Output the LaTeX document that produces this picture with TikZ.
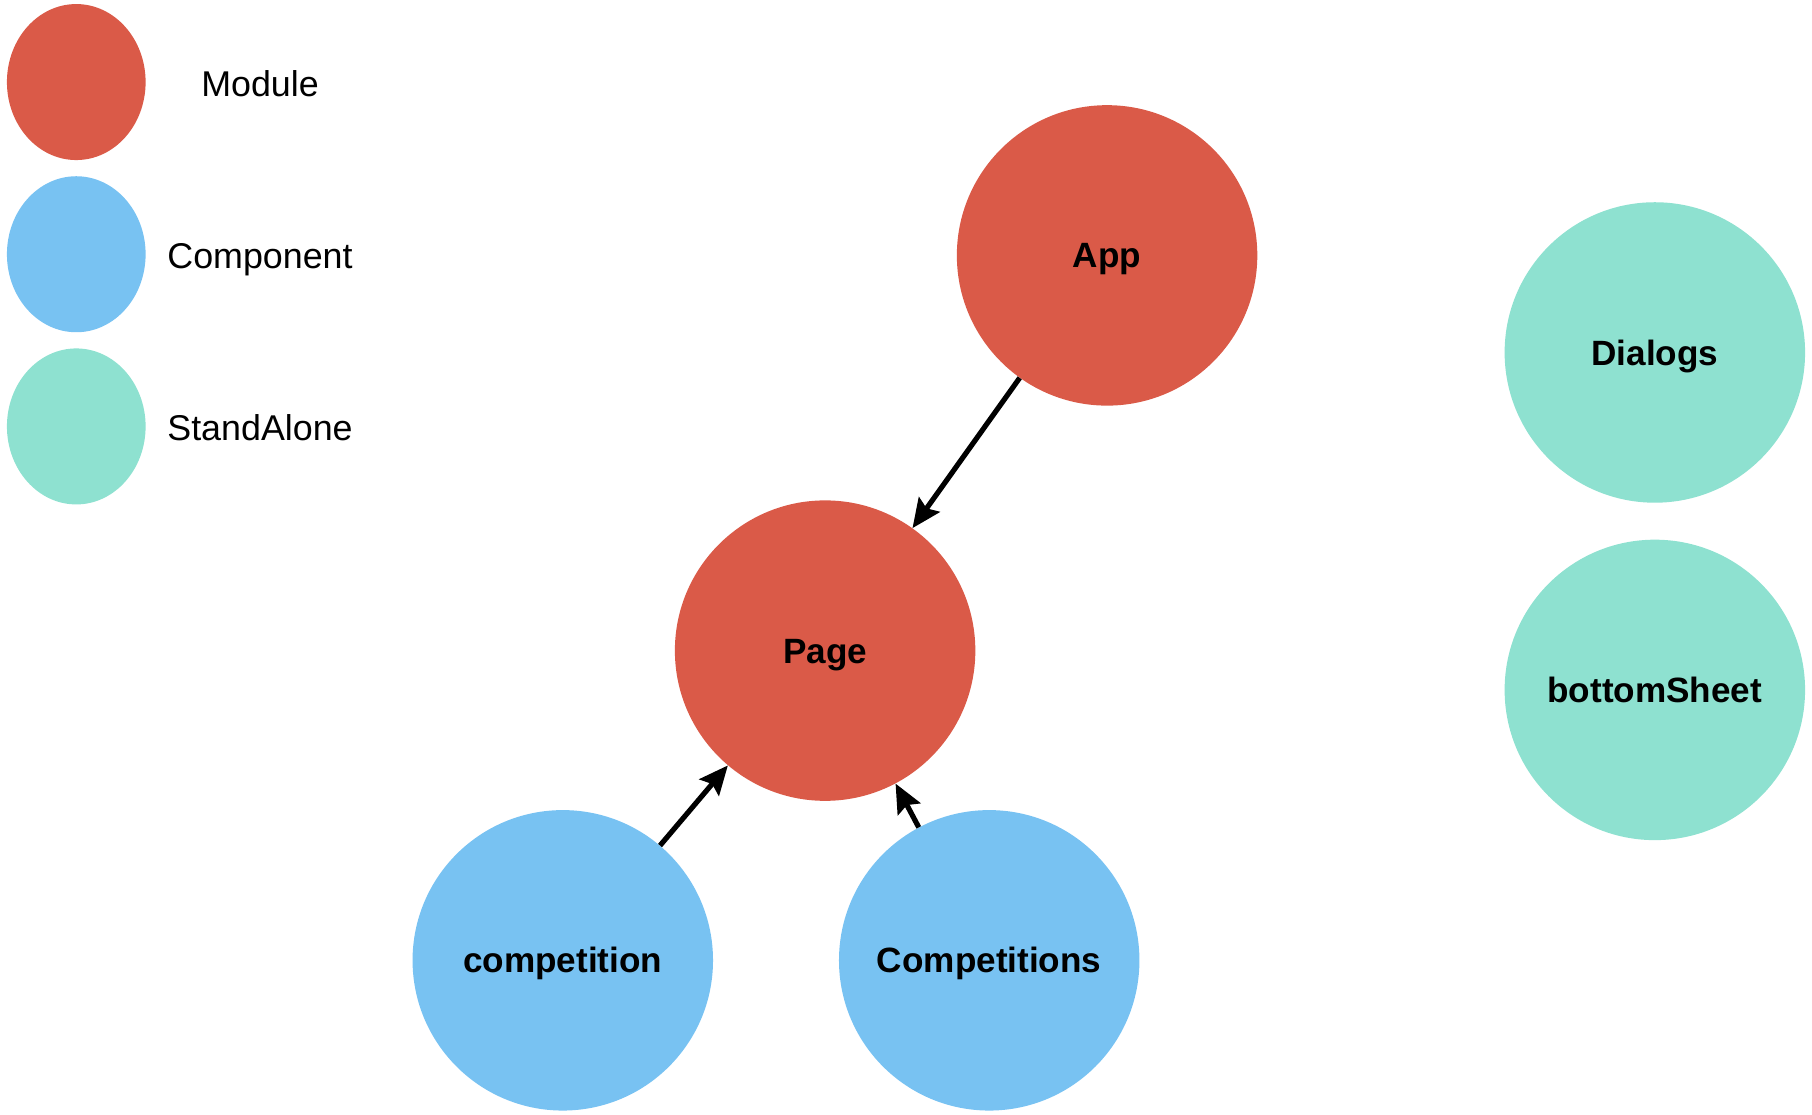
\documentclass[tikz,border=0pt]{standalone}
\usepackage{fontspec}
\setmainfont{Liberation Sans}
\usepackage{tikz}
\usetikzlibrary{arrows.meta}
\usetikzlibrary{shapes.geometric}
\definecolor{Mcol}{RGB}{218,90,72}
\definecolor{Ccol}{RGB}{120,194,242}
\definecolor{Scol}{RGB}{142,225,208}
\tikzstyle{unit}=[circle, minimum size=260pt, inner sep=0pt, text height=21.8pt, text depth=0pt, font=\bfseries\fontsize{30.4}{36}\selectfont]
\tikzstyle{M}=+[unit, fill=Mcol]
\tikzstyle{C}=+[unit, fill=Ccol]
\tikzstyle{S}=+[unit, fill=Scol]
\tikzstyle{key}=[ellipse, minimum width=120pt, minimum height=135pt, inner sep=0pt]
\tikzstyle{keytext}=[text height=22.2pt, text depth=0pt, font=\fontsize{31}{36}\selectfont]

\begin{document}
\begin{tikzpicture}[x=1pt, y=-1pt, >={Stealth[length=25pt,width=22pt,inset=4pt]}]
	\useasboundingbox (0,0) rectangle (1568,964);
	% legend
	\node (KM) at (66,71) [key, fill=Mcol] {};
	\node (KC) at (66,220) [key, fill=Ccol] {};
	\node (KS) at (66,369) [key, fill=Scol] {};
	\node (TM) at (225,72) [keytext] {Module};
	\node (TC) at (225,221) [keytext] {Component};
	\node (TS) at (225,370) [keytext] {StandAlone};
	% graph
	\node (App) at (958,221) [M] {App};
	\node (Page) at (714,563) [M] {Page};
	\node (comp) at (487,831) [C] {competition};
	\node (Comps) at (856,831) [C] {Competitions};
	\node (Dialogs) at (1432,305) [S] {Dialogs};
	\node (Sheet) at (1432,597) [S] {bottomSheet};
	\path[->, line width=4.5pt, black]
		(App) edge (Page)
		(comp) edge (Page)
		(Comps) edge (Page);
\end{tikzpicture}
\end{document}
